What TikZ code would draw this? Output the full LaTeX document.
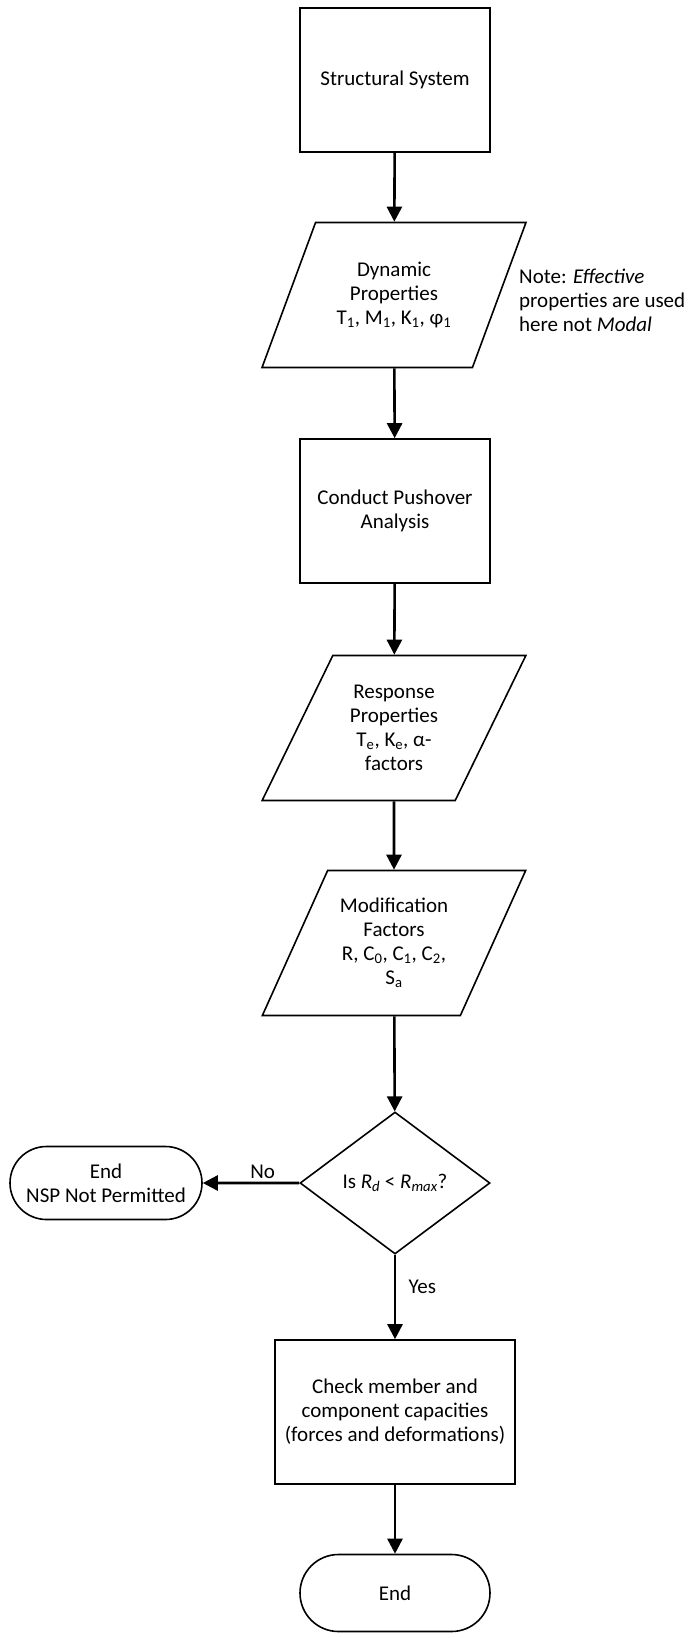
\documentclass[tikz,border=0pt]{standalone}
\usepackage{fontspec}
\setmainfont{Carlito}
\usepackage{tikz}
\usetikzlibrary{shapes.geometric, shapes.misc, arrows.meta, positioning}

\begin{document}
\begin{tikzpicture}[
    x=1pt, y=-1pt,
    every node/.style={font=\fontsize{21}{24}\selectfont},
    box/.style={draw, rectangle, line width=1.6pt, minimum width=190pt, minimum height=144pt, align=center, inner sep=0pt},
    io/.style={draw, trapezium, trapezium left angle=59.3, trapezium right angle=120.7, trapezium stretches=true, line width=1.6pt, minimum width=264pt, minimum height=145pt, align=center, inner sep=0pt},
    decision/.style={draw, diamond, line width=1.6pt, minimum width=190pt, minimum height=142pt, align=center, inner sep=0pt},
    term/.style={draw, rounded rectangle, line width=1.6pt, minimum height=73pt, align=center, inner sep=0pt},
    arrow/.style={-{Triangle[length=15pt, width=15pt]}, line width=2.6pt},
]
\useasboundingbox (0, 0) rectangle (695, 1638);

% Structure
\node[box] (sys) at (395, 80) {Structural System};

% Dynamic properties
\node[io] (dyn) at (394, 295) {Dynamic\\Properties\\T\textsubscript{1}, M\textsubscript{1}, K\textsubscript{1}, φ\textsubscript{1}};
\node[align=left, anchor=west, inner sep=0pt] (note) at (519, 300) {Note: \textit{Effective}\\properties are used\\here not \textit{Modal}};

% Pushover
\node[box] (push) at (395, 511) {Conduct Pushover\\Analysis};

% Response
\node[io] (resp) at (394, 728) {Response\\Properties\\T\textsubscript{e}, K\textsubscript{e}, α-\\factors};

% Modification factors
\node[io] (mod) at (394, 943) {Modification\\Factors\\R, C\textsubscript{0}, C\textsubscript{1}, C\textsubscript{2},\\S\textsubscript{a}};

% Check R
\node[decision] (dec) at (395, 1183) {Is \textit{R}\textsubscript{\textit{d}} < \textit{R}\textsubscript{\textit{max}}?};

% Not permitted
\node[term, minimum width=192pt] (nsp) at (106, 1183) {End\\NSP Not Permitted};

% Capacities
\node[box, minimum width=240pt] (check) at (395, 1412) {Check member and\\component capacities\\(forces and deformations)};

% End
\node[term, minimum width=190pt, minimum height=77pt] (fin) at (395, 1593) {End};

% Arrows
\draw[arrow] (sys) -- (dyn);
\draw[arrow] (dyn) -- (push);
\draw[arrow] (push) -- (resp);
\draw[arrow] (resp) -- (mod);
\draw[arrow] (mod) -- (dec);
\draw[arrow] (dec) -- node[above, pos=0.38] (no) {No} (nsp);
\draw[arrow] (dec) -- node[right, pos=0.38, xshift=9pt] (yes) {Yes} (check);
\draw[arrow] (check) -- (fin);

\end{tikzpicture}
\end{document}
